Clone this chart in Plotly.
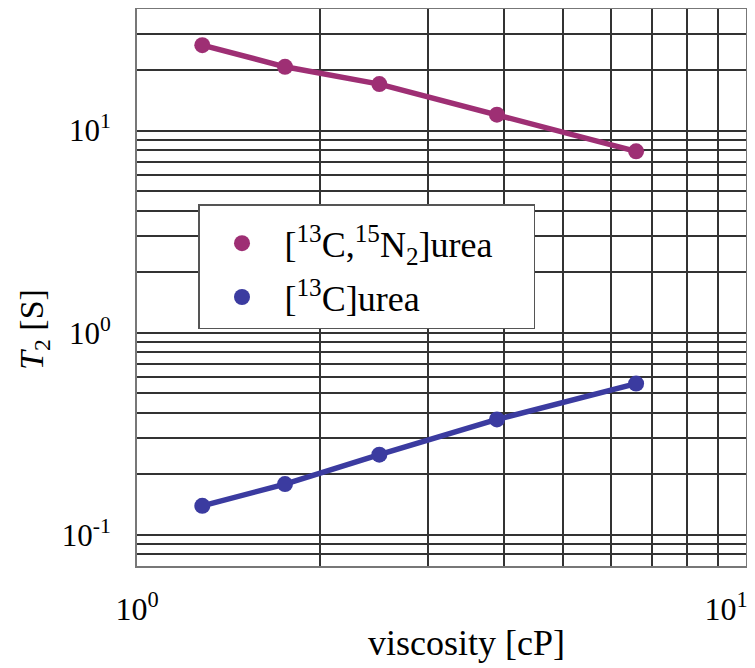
import plotly.graph_objects as go
import math

# Data
viscosity = [1.28, 1.75, 2.5, 3.9, 6.6]
t2_13c15n2 = [26.5, 20.7, 17.0, 12.0, 7.9]
t2_13c = [0.139, 0.178, 0.249, 0.372, 0.56]

series_names = ["[<sup>13</sup>C,<sup>15</sup>N<sub>2</sub>]urea&nbsp;&nbsp;&nbsp;&nbsp;",
                "[<sup>13</sup>C]urea"]
series_colors = ["#9E2F74", "#3B3BA0"]

x_grid = [1, 2, 3, 4, 5, 6, 7, 8, 9, 10]
x_labels = ["10<sup>0</sup>", "", "", "", "", "", "", "", "",
            "10<sup>1</sup>&nbsp;&nbsp;&nbsp;&nbsp;&nbsp;"]
y_grid = [0.08, 0.09, 0.1, 0.2, 0.3, 0.4, 0.5, 0.6, 0.7, 0.8, 0.9,
          1, 2, 3, 4, 5, 6, 7, 8, 9, 10, 20, 30]
y_label_map = {0.1: "10<sup>-1</sup>", 1: "10<sup>0</sup>", 10: "10<sup>1</sup>"}
y_labels = [y_label_map.get(v, "") for v in y_grid]

FONT = "Liberation Serif, Times New Roman, serif"

fig = go.Figure()
for i, (ys, name, col) in enumerate(zip([t2_13c15n2, t2_13c], series_names, series_colors)):
    fig.add_trace(go.Scatter(x=viscosity, y=ys, mode="lines",
                             line=dict(color=col, width=5.5), showlegend=False,
                             legendgroup=f"g{i}", hoverinfo="skip"))
    fig.add_trace(go.Scatter(x=viscosity, y=ys, mode="markers", name=name,
                             legendgroup=f"g{i}",
                             marker=dict(color=col, size=16)))

# page body has an 8px margin: figure is sized/offset to fill the 755x668 window
fig.update_layout(
    width=747, height=660,
    margin=dict(l=129, r=9, t=1, b=102, autoexpand=False),
    paper_bgcolor="white", plot_bgcolor="white",
    font=dict(family=FONT, size=32, color="black"),
    showlegend=True,
    legend=dict(x=(198 - 137) / 609, y=(566 - 204) / 557, xanchor="left", yanchor="top",
                bgcolor="white", bordercolor="#555555", borderwidth=1.5,
                font=dict(family=FONT, size=36, color="black"),
                title=dict(text="&nbsp;", font=dict(size=6)),
                itemwidth=75, tracegroupgap=4),
)

fig.update_xaxes(type="log", range=[0, 1], tickvals=x_grid, ticktext=x_labels,
                 showgrid=True, gridcolor="#333333", gridwidth=1.5,
                 showline=True, linecolor="#777777", linewidth=2, mirror=True,
                 ticks="", ticklabelstandoff=14, ticklabeloverflow="allow", zeroline=False,
                 tickfont=dict(family=FONT, size=32, color="black"))
fig.update_yaxes(type="log", range=[math.log10(0.07), math.log10(40)],
                 tickvals=y_grid, ticktext=y_labels,
                 showgrid=True, gridcolor="#333333", gridwidth=1.5,
                 showline=True, linecolor="#777777", linewidth=2, mirror=True,
                 ticks="", ticklabelstandoff=18, zeroline=False,
                 tickfont=dict(family=FONT, size=31, color="black"))

fig.add_annotation(text="viscosity [cP]", xref="paper", yref="paper",
                   x=(466 - 137) / 609, y=(566 - 643) / 557,
                   xanchor="center", yanchor="middle", showarrow=False,
                   font=dict(family=FONT, size=36, color="black"))
fig.add_annotation(text="<i>T</i><sub>2</sub> [S]", xref="paper", yref="paper",
                   x=(34 - 137) / 609, y=(566 - 330) / 557, textangle=-90,
                   xanchor="center", yanchor="middle", showarrow=False,
                   font=dict(family=FONT, size=34, color="black"))

fig.write_html("out.html")
